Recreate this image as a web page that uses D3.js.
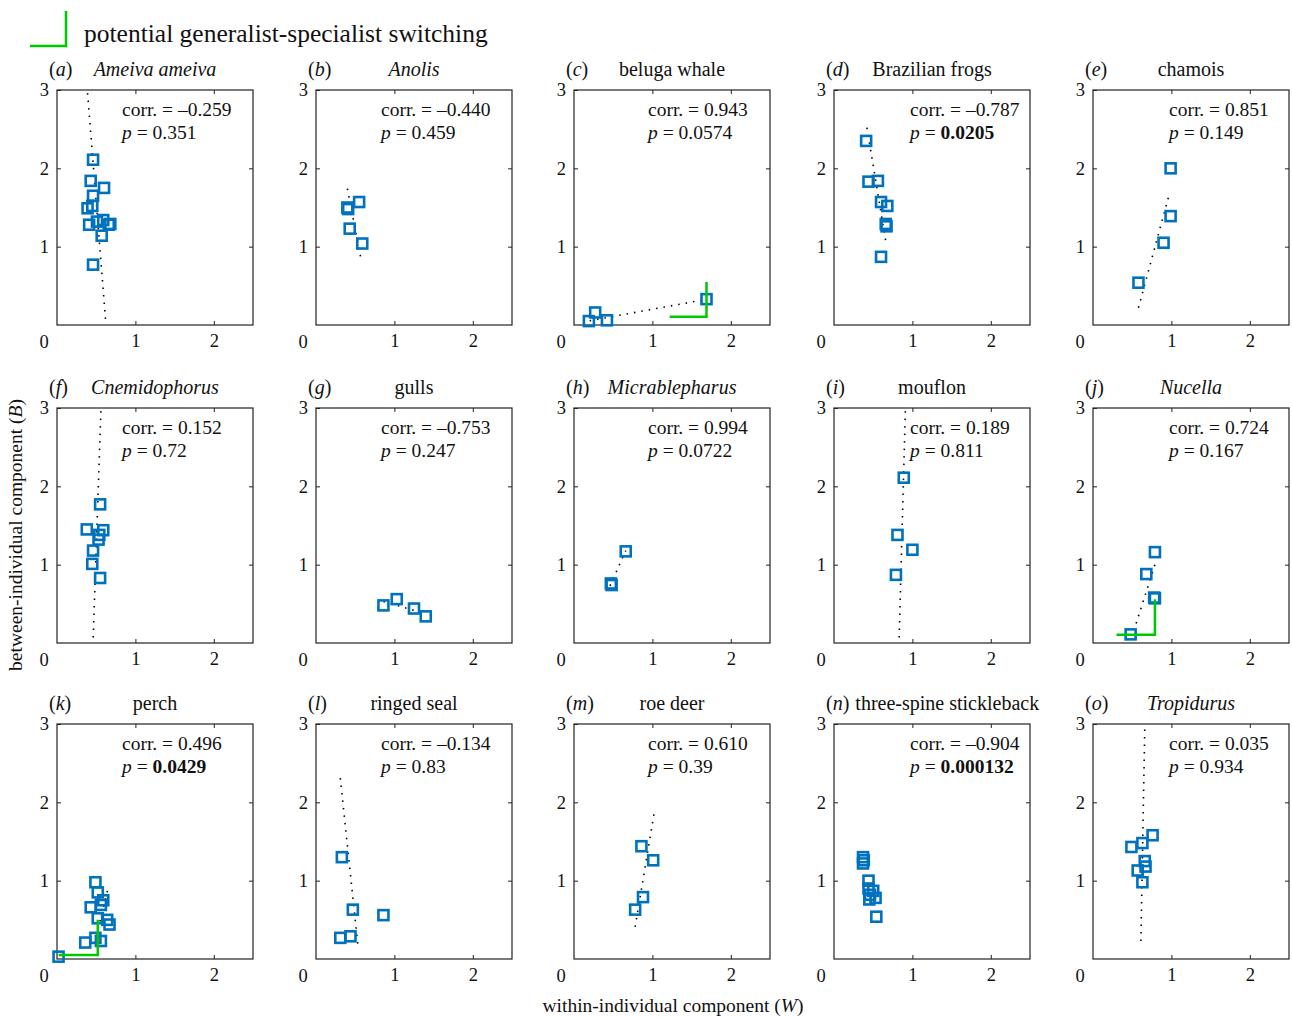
<!DOCTYPE html>
<html>
<head>
<meta charset="utf-8">
<script src="https://cdn.jsdelivr.net/npm/d3@7"></script>
<style>
  body { margin: 0; background: #fff; }
  text { font-family: "Liberation Serif", "Times New Roman", serif; fill: #111; }
</style>
</head>
<body>
<script>
// panel labels and species
var letters = ["a","b","c","d","e","f","g","h","i","j","k","l","m","n","o"];
var species = ["Ameiva ameiva","Anolis","beluga whale","Brazilian frogs","chamois",
  "Cnemidophorus","gulls","Micrablepharus","mouflon","Nucella",
  "perch","ringed seal","roe deer","three-spine stickleback","Tropidurus"];
var italicName = [true,true,false,false,false, true,false,true,false,true, false,false,false,false,true];

// correlation and p values
var corrs = ["\u20130.259","\u20130.440","0.943","\u20130.787","0.851",
  "0.152","\u20130.753","0.994","0.189","0.724",
  "0.496","\u20130.134","0.610","\u20130.904","0.035"];
var pvals = ["0.351","0.459","0.0574","0.0205","0.149",
  "0.72","0.247","0.0722","0.811","0.167",
  "0.0429","0.83","0.39","0.000132","0.934"];
var significant = [false,false,false,true,false, false,false,false,false,false, true,false,false,true,false];

// points [W, B] per panel
var points = [
  [[0.46,2.11],[0.43,1.84],[0.60,1.75],[0.46,1.65],[0.39,1.49],[0.45,1.52],[0.41,1.28],[0.51,1.32],[0.59,1.34],[0.66,1.28],[0.68,1.29],[0.57,1.14],[0.46,0.77]],
  [[0.40,1.50],[0.41,1.48],[0.55,1.57],[0.43,1.23],[0.59,1.04]],
  [[0.19,0.05],[0.27,0.16],[0.42,0.06],[1.69,0.33]],
  [[0.41,2.35],[0.44,1.83],[0.56,1.84],[0.60,1.57],[0.68,1.52],[0.66,1.29],[0.67,1.26],[0.60,0.87]],
  [[0.99,2.00],[0.99,1.39],[0.90,1.05],[0.58,0.54]],
  [[0.55,1.77],[0.38,1.45],[0.59,1.44],[0.54,1.38],[0.53,1.32],[0.46,1.18],[0.45,1.01],[0.55,0.83]],
  [[0.86,0.48],[1.03,0.56],[1.25,0.44],[1.40,0.34]],
  [[0.47,0.76],[0.48,0.74],[0.66,1.17]],
  [[0.89,2.11],[0.81,1.38],[1.00,1.19],[0.79,0.87]],
  [[0.79,1.16],[0.68,0.88],[0.79,0.57],[0.78,0.58],[0.48,0.11]],
  [[0.02,0.03],[0.49,0.98],[0.52,0.85],[0.43,0.66],[0.59,0.75],[0.56,0.69],[0.52,0.52],[0.64,0.50],[0.67,0.44],[0.36,0.21],[0.49,0.27],[0.56,0.23]],
  [[0.33,1.30],[0.47,0.63],[0.86,0.56],[0.31,0.27],[0.44,0.29]],
  [[0.86,1.44],[1.01,1.26],[0.88,0.79],[0.78,0.63]],
  [[0.37,1.30],[0.37,1.22],[0.38,1.26],[0.44,1.00],[0.44,0.90],[0.46,0.82],[0.50,0.87],[0.45,0.76],[0.53,0.78],[0.54,0.54]],
  [[0.49,1.43],[0.63,1.48],[0.76,1.58],[0.66,1.25],[0.67,1.18],[0.57,1.13],[0.63,0.98]]
];

// dotted fit lines, [start, end] in [W, B]
var fitLines = [
  [[0.39,2.96],[0.62,0.06]],
  [[0.40,1.74],[0.57,0.86]],
  [[0.20,0.055],[1.65,0.32]],
  [[0.42,2.52],[0.66,1.07]],
  [[0.58,0.22],[0.97,1.66]],
  [[0.56,2.96],[0.46,0.02]],
  [[0.86,0.53],[1.34,0.39]],
  [[0.46,0.73],[0.66,1.18]],
  [[0.91,2.96],[0.83,0.02]],
  [[0.55,0.25],[0.79,1.00]],
  [[0.48,0.20],[0.65,0.90]],
  [[0.31,2.31],[0.54,0.12]],
  [[0.78,0.41],[1.02,1.85]],
  null,
  [[0.66,2.93],[0.61,0.17]]
];

// potential generalist-specialist switching markers
var switching = [null,null,[[1.22,0.106],[1.69,0.106],[1.69,0.55]],null,null,
  null,null,null,null,[[0.30,0.106],[0.79,0.106],[0.79,0.56]],
  [[0.02,0.05],[0.52,0.05],[0.52,0.50]],null,null,null,null];

var colLeft = [57, 316, 574, 834, 1093];
var rowTop = [90, 408, 724];
var corrOffset = [65, 65, 74, 76, 76];
var W = 196, H = 235;
var blue = "#0072BD", green = "#00C800";

var svg = d3.select("body").append("svg")
  .attr("width", 1292).attr("height", 1017);

var x = d3.scaleLinear().domain([0, 2.5]).range([0, W]);
var y = d3.scaleLinear().domain([0, 3]).range([H, 0]);

// legend
svg.append("path")
  .attr("d", d3.line()([[30, 46], [66, 46], [66, 11]]))
  .attr("fill", "none").attr("stroke", green).attr("stroke-width", 2.5);
svg.append("text").attr("x", 84).attr("y", 42)
  .style("font-size", "25.5px").text("potential generalist-specialist switching");

letters.forEach(function(letter, i) {
  var col = i % 5, row = Math.floor(i / 5);
  var g = svg.append("g")
    .attr("transform", "translate(" + colLeft[col] + "," + rowTop[row] + ")");

  // axes
  var fmt = d3.format("d");
  var xb = g.append("g").attr("transform", "translate(0," + H + ")")
    .call(d3.axisBottom(x).tickValues([1, 2]).tickFormat(fmt).tickSize(-4).tickPadding(9));
  var xt = g.append("g")
    .call(d3.axisTop(x).tickValues([1, 2]).tickSize(-4).tickFormat(""));
  var yl = g.append("g")
    .call(d3.axisLeft(y).tickValues([1, 2, 3]).tickFormat(fmt).tickSize(-4).tickPadding(8));
  var yr = g.append("g").attr("transform", "translate(" + W + ",0)")
    .call(d3.axisRight(y).tickValues([1, 2]).tickSize(-4).tickFormat(""));
  [xb, xt, yl, yr].forEach(function(a) {
    a.attr("font-family", null).attr("font-size", null);
    a.select(".domain").remove();
    a.selectAll("line").attr("stroke", "#222");
    a.selectAll("text").style("font-family", "'Liberation Serif', serif")
      .style("font-size", "18.5px").attr("fill", "#111");
  });
  g.append("text").attr("x", -13).attr("y", H + 23)
    .attr("text-anchor", "middle").style("font-size", "18.5px").text("0");

  g.append("rect").attr("width", W).attr("height", H)
    .attr("fill", "none").attr("stroke", "#222").attr("stroke-width", 1.2);

  // fit line
  if (fitLines[i]) {
    g.append("line")
      .attr("x1", x(fitLines[i][0][0])).attr("y1", y(fitLines[i][0][1]))
      .attr("x2", x(fitLines[i][1][0])).attr("y2", y(fitLines[i][1][1]))
      .attr("stroke", "#000").attr("stroke-width", 1.6)
      .attr("stroke-dasharray", "1.5,6");
  }

  // squares
  g.selectAll("rect.pt").data(points[i]).enter().append("rect")
    .attr("class", "pt")
    .attr("x", function(d) { return x(d[0]) - 5; })
    .attr("y", function(d) { return y(d[1]) - 5; })
    .attr("width", 10).attr("height", 10)
    .attr("fill", "none").attr("stroke", blue).attr("stroke-width", 2.6);

  if (switching[i]) {
    g.append("path")
      .attr("d", d3.line().x(function(d) { return x(d[0]); }).y(function(d) { return y(d[1]); })(switching[i]))
      .attr("fill", "none").attr("stroke", green).attr("stroke-width", 2.5);
  }

  // title
  var lab = g.append("text").attr("x", -8).attr("y", -14).style("font-size", "20px");
  lab.append("tspan").text("(");
  lab.append("tspan").attr("font-style", "italic").text(letter);
  lab.append("tspan").text(")");
  var labEnd = -8 + lab.node().getComputedTextLength();
  var name = g.append("text").attr("y", -14).style("font-size", "20px")
    .attr("font-style", italicName[i] ? "italic" : "normal")
    .attr("text-anchor", "middle").text(species[i]);
  var nw = name.node().getComputedTextLength();
  name.attr("x", Math.max(W / 2, labEnd + 6 + nw / 2));

  // stats
  var cx = corrOffset[col];
  g.append("text").attr("x", cx).attr("y", 26).style("font-size", "19.5px")
    .text("corr. = " + corrs[i]);
  var pt = g.append("text").attr("x", cx).attr("y", 49).style("font-size", "19.5px");
  pt.append("tspan").attr("font-style", "italic").text("p");
  pt.append("tspan").text(" = ");
  pt.append("tspan").attr("font-weight", significant[i] ? "bold" : "normal").text(pvals[i]);
});

// axis titles
var yt = svg.append("text").attr("transform", "translate(22,535) rotate(-90)")
  .attr("text-anchor", "middle").style("font-size", "19.5px");
yt.append("tspan").text("between-individual component (");
yt.append("tspan").attr("font-style", "italic").text("B");
yt.append("tspan").text(")");

var xtl = svg.append("text").attr("x", 673).attr("y", 1012)
  .attr("text-anchor", "middle").style("font-size", "19.5px");
xtl.append("tspan").text("within-individual component (");
xtl.append("tspan").attr("font-style", "italic").text("W");
xtl.append("tspan").text(")");
</script>
</body>
</html>
